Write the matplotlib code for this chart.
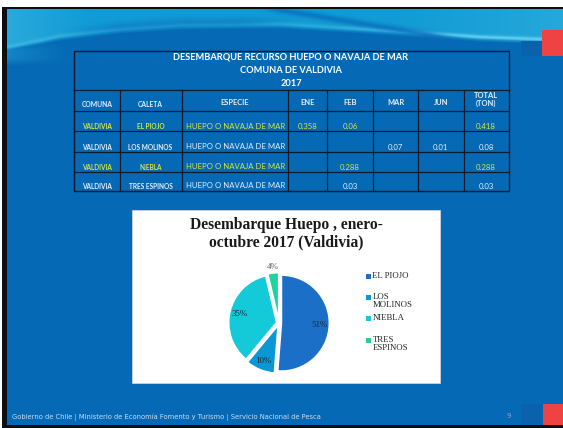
import matplotlib.pyplot as plt
import numpy as np
from matplotlib.patches import Rectangle

# Table data
comunas = ['VALDIVIA', 'VALDIVIA', 'VALDIVIA', 'VALDIVIA']
caletas = ['EL PIOJO', 'LOS MOLINOS', 'NIEBLA', 'TRES ESPINOS']
especie = 'HUEPO O NAVAJA DE MAR'
months = ['ENE', 'FEB', 'MAR', 'JUN']
ene = [0.358, None, None, None]
feb = [0.06, None, 0.288, 0.03]
mar = [None, 0.07, None, None]
jun = [None, 0.01, None, None]
total = [0.418, 0.08, 0.288, 0.03]

table_title = ['DESEMBARQUE RECURSO HUEPO O NAVAJA DE MAR',
               'COMUNA DE VALDIVIA', '2017']
pie_title = 'Desembarque Huepo , enero-\noctubre 2017 (Valdivia)'
legend_labels = ['EL PIOJO', 'LOS\nMOLINOS', 'NIEBLA', 'TRES\nESPINOS']
footer = ('Gobierno de Chile | Ministerio de Economía Fomento y Turismo | '
          'Servicio Nacional de Pesca')

COLORS = {
    'slide': '#0569b5',
    'yellow': '#d6e53f',
    'white_txt': '#e6eef8',
    'line': '#0d1b2a',
    'red': '#ef4242',
    'pie': ['#1b6fc6', '#0a98d4', '#14c9d8', '#1fd39d'],
}
SANS = 'Lato'
SERIF = 'Liberation Serif'

W, H = 563, 428
fig = plt.figure(figsize=(W / 100, H / 100), dpi=100, facecolor='white')
bg = fig.add_axes([0, 0, 1, 1])
bg.set_xlim(0, W)
bg.set_ylim(H, 0)
bg.axis('off')

# slide frame and background
bg.add_patch(Rectangle((1.5, 7), W, H - 6, facecolor='#0b0f14', edgecolor='none'))
bg.add_patch(Rectangle((7, 9), W - 7, H - 12.5, facecolor=COLORS['slide'],
                       edgecolor='none'))

# top wave decoration
xs = np.arange(7, W) + 0.5
ys = np.arange(9, 66) + 0.5
X, Y = np.meshgrid(xs, ys)
f = np.interp(X, [7, 60, 120, 180, 280, 380, 480, 563],
              [50, 39, 32, 28, 27, 33, 40, 43])
alpha = np.clip((f - Y) / 4 + 0.5, 0, 1)
base = np.array([18, 155, 212]) / 255
light = np.array([110, 215, 242]) / 255
dark = np.array([10, 112, 190]) / 255
rgb = np.ones(X.shape + (3,)) * base
# lighter at far left and right
edge = np.clip(1 - X / 90, 0, 1) * 0.45 + np.clip((X - 400) / 160, 0, 1) * 0.35
rgb = rgb * (1 - edge[..., None]) + light * edge[..., None] * 0.6 + base * edge[..., None] * 0.4
# bright band along the edge
band = np.exp(-((Y - (f - 3)) / 2.0) ** 2) * (0.25 + 0.55 * np.clip((X - 330) / 120, 0, 1))
rgb = rgb * (1 - band[..., None]) + light * band[..., None]
# dark streak on the right
g = 10 + (X - 280) * 25 / 150
win = np.clip((X - 250) / 30, 0, 1) * np.clip((470 - X) / 40, 0, 1)
streak = np.exp(-((Y - g) / 3.5) ** 2) * win * 0.8
rgb = rgb * (1 - streak[..., None]) + dark * streak[..., None]
# darker arch under the top-left area
arch = (np.exp(-((Y - (f - 5)) / 5) ** 2) * np.clip((X - 60) / 60, 0, 1)
        * np.clip((300 - X) / 60, 0, 1) * 0.5)
rgb = rgb * (1 - arch[..., None]) + dark * arch[..., None]
# bottom-left lighter patch
patch = (np.clip(1 - X / 70, 0, 1) * np.clip((Y - 40) / 10, 0, 1)
         * np.clip((66 - Y) / 8, 0, 1) * 0.5)
alpha = np.maximum(alpha, patch)
rgba = np.dstack([np.clip(rgb, 0, 1), alpha])
bg.imshow(rgba, extent=[7, W, 66, 9], interpolation='bilinear', aspect='auto',
          zorder=1)
bg.set_xlim(0, W)
bg.set_ylim(H, 0)

# corner squares
bg.add_patch(Rectangle((521, 41), 21, 15, facecolor='#0a62ad', edgecolor='none', zorder=2))
bg.add_patch(Rectangle((542, 30), 21, 26, facecolor=COLORS['red'], edgecolor='none', zorder=2))
bg.add_patch(Rectangle((521, 404), 22, 21, facecolor='#0a62ad', edgecolor='none', zorder=2))
bg.add_patch(Rectangle((543, 404), 20, 21, facecolor=COLORS['red'], edgecolor='none', zorder=2))

# ---- table ----
col_x = [74, 119.5, 181.5, 287.5, 327, 373, 418, 463.5, 508.5]
row_y = [89.5, 110.5, 131, 151.5, 171.5, 190.5]
top_y = 50.5
lc = COLORS['line']
bg.add_patch(Rectangle((col_x[0], top_y), col_x[-1] - col_x[0], row_y[-1] - top_y,
                       facecolor='none', edgecolor=lc, linewidth=1.0, zorder=3))
for yy in row_y[:-1]:
    bg.plot([col_x[0], col_x[-1]], [yy, yy], color=lc, lw=0.9, zorder=3)
for xx in col_x[1:-1]:
    bg.plot([xx, xx], [row_y[0], row_y[-1]], color=lc, lw=0.9, zorder=3)

for i, t in enumerate(table_title):
    bg.text(291, 57 + i * 13, t, ha='center', va='center', color='white',
            fontsize=6.7, fontweight='bold', family=SANS, zorder=4)

headers = ['COMUNA', 'CALETA', 'ESPECIE'] + months
hdr_y = [104, 104, 102.5, 102.5, 102.5, 102.5, 102.5]
centers = [(col_x[k] + col_x[k + 1]) / 2 for k in range(len(col_x) - 1)]
for k, h in enumerate(headers):
    bg.text(centers[k], hdr_y[k], h, ha='center', va='center', color=COLORS['white_txt'],
            fontsize=4.9 if k < 2 else 5.4, fontweight='bold', family=SANS, zorder=4)
bg.text(centers[-1], 99.5, 'TOTAL\n(TON)', ha='center', va='center', color=COLORS['white_txt'],
        fontsize=5.4, fontweight='bold', family=SANS, linespacing=1.1, zorder=4)

highlight = [True, False, True, False]
for r in range(len(caletas)):
    cy = row_y[r + 2] - 4.5
    c = COLORS['yellow'] if highlight[r] else COLORS['white_txt']
    bg.text(centers[0], cy, comunas[r], ha='center', va='center', color=c,
            fontsize=4.7, fontweight='bold', family=SANS, zorder=4)
    bg.text(centers[1], cy, caletas[r], ha='center', va='center', color=c,
            fontsize=4.7, fontweight='bold', family=SANS, zorder=4)
    bg.text(centers[2] + 1.5, cy - 0.5, especie, ha='center', va='center', color=c,
            fontsize=5.6, family=SANS, zorder=4)
    for k, series in enumerate([ene, feb, mar, jun, total]):
        v = series[r]
        if v is not None:
            bg.text(centers[3 + k], cy, str(v), ha='center', va='center', color=c,
                    fontsize=5.6, family=SANS, zorder=4)

# ---- pie chart panel ----
bg.add_patch(Rectangle((132, 210), 308, 173, facecolor='white', edgecolor='#d9d9d9',
                       linewidth=0.5, zorder=3))
bg.text(286, 233.5, pie_title, ha='center', va='center', fontsize=11.2,
        fontweight='bold', family=SERIF, color='#1a1a1a', linespacing=1.1, zorder=4)

cx, cy, r_px = 279, 323, 48
half = 1.25 * r_px
pax = fig.add_axes([(cx - half) / W, 1 - (cy + half) / H, 2 * half / W, 2 * half / H])
pax.set_zorder(5)
wedges, texts, autotexts = pax.pie(
    total, colors=COLORS['pie'], startangle=90, counterclock=False,
    explode=[0.05] * len(total), autopct='%1.0f%%', pctdistance=0.8,
    wedgeprops=dict(edgecolor='white', linewidth=1.2),
    textprops=dict(family=SERIF, fontsize=6.4, color='#1a2838'))
pax.set_xlim(-1.25, 1.25)
pax.set_ylim(-1.25, 1.25)
pax.set_aspect('equal')
pax.axis('off')
# small slice label sits outside
ang = np.deg2rad((wedges[-1].theta1 + wedges[-1].theta2) / 2)
autotexts[-1].set_position((1.17 * np.cos(ang), 1.17 * np.sin(ang)))
autotexts[-1].set_color('#595959')

# legend
leg_y = [276, 297, 318, 340]
for k, lab in enumerate(legend_labels):
    bg.add_patch(Rectangle((366, leg_y[k] - 2.5), 5, 5, facecolor=COLORS['pie'][k],
                           edgecolor='none', zorder=4))
    bg.text(372.5, leg_y[k] - 4, lab, ha='left', va='top', fontsize=6.3,
            family=SERIF, color='#262626', linespacing=1.05, zorder=4)

# footer
bg.text(12, 417, footer, ha='left', va='center', fontsize=4.9, color='#c9dcf0',
        family='DejaVu Sans', zorder=4)
bg.text(509, 416, '9', ha='center', va='center', fontsize=5, color='#7fa6cf',
        family='DejaVu Sans', zorder=4)

fig.savefig('out.png', dpi=100, facecolor='white')
